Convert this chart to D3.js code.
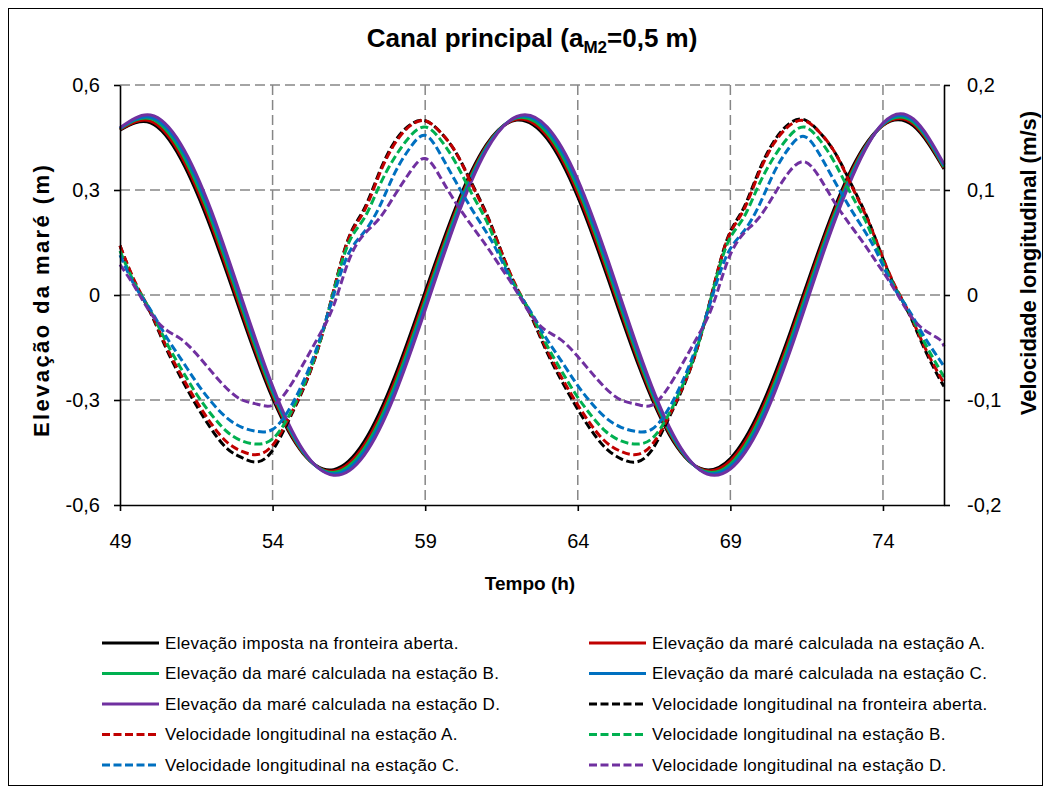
<!DOCTYPE html>
<html>
<head>
<meta charset="utf-8">
<script src="https://cdn.jsdelivr.net/npm/d3@7"></script>
<style>
  body { margin: 0; background: #fff; }
  svg { font-family: Arial, "Liberation Sans", sans-serif; }
</style>
</head>
<body>
<div id="chart"></div>
<script>
// Canal principal - elevação e velocidade

const elevHours = [49, 50, 51, 52, 53, 54, 55, 56, 57, 58, 59, 60, 61, 62,
  63, 64, 65, 66, 67, 68, 69, 70, 71, 72, 73, 74, 75, 76];

const elevOpen = [0.471, 0.492, 0.388, 0.186, -0.062, -0.295, -0.453, -0.499, -0.419, -0.234,
  0.009, 0.250, 0.429, 0.500, 0.446, 0.280, 0.044, -0.203, -0.399, -0.495,
  -0.467, -0.322, -0.097, 0.153, 0.365, 0.485, 0.483, 0.360];
const elevA = [0.473, 0.497, 0.398, 0.199, -0.050, -0.286, -0.451, -0.503, -0.429, -0.247,
  -0.004, 0.240, 0.425, 0.502, 0.454, 0.292, 0.057, -0.192, -0.394, -0.496,
  -0.474, -0.334, -0.110, 0.142, 0.358, 0.485, 0.488, 0.363];
const elevB = [0.475, 0.504, 0.409, 0.213, -0.037, -0.278, -0.449, -0.507, -0.439, -0.260,
  -0.017, 0.231, 0.421, 0.506, 0.463, 0.305, 0.070, -0.182, -0.389, -0.498,
  -0.483, -0.346, -0.123, 0.131, 0.352, 0.487, 0.493, 0.366];
const elevC = [0.476, 0.508, 0.420, 0.226, -0.024, -0.269, -0.446, -0.511, -0.448, -0.273,
  -0.030, 0.221, 0.417, 0.508, 0.472, 0.317, 0.083, -0.171, -0.383, -0.499,
  -0.490, -0.358, -0.136, 0.119, 0.345, 0.489, 0.498, 0.370];
const elevD = [0.478, 0.514, 0.430, 0.239, -0.012, -0.260, -0.443, -0.515, -0.458, -0.286,
  -0.043, 0.211, 0.412, 0.510, 0.480, 0.330, 0.097, -0.160, -0.377, -0.500,
  -0.497, -0.370, -0.150, 0.108, 0.338, 0.491, 0.503, 0.374];

const velHours = [49, 49.5, 50, 50.5, 51, 51.5, 52, 52.5, 53, 53.5, 54, 54.5, 55, 55.5,
  56, 56.5, 57, 57.5, 58, 58.5, 59, 59.5, 60, 60.5, 61,
  61.42, 61.92, 62.42, 62.92, 63.42, 63.92, 64.42, 64.92, 65.42, 65.92, 66.42, 66.92,
  67.42, 67.92, 68.42, 68.92, 69.42, 69.92, 70.42, 70.92, 71.42, 71.92, 72.42, 72.92, 73.42,
  73.84, 74.34, 74.84, 75.34, 75.84, 76];

const velOpen = [0.047, 0.011, -0.017, -0.050, -0.079, -0.105, -0.128, -0.146, -0.155, -0.159,
  -0.148, -0.121, -0.090, -0.050, 0.004, 0.055, 0.082, 0.117, 0.146, 0.162, 0.166, 0.155,
  0.136, 0.108, 0.078,
  0.047, 0.011, -0.017, -0.050, -0.079, -0.105, -0.128, -0.146, -0.156, -0.159,
  -0.148, -0.121, -0.090, -0.050, 0.004, 0.055, 0.082, 0.117, 0.146, 0.163, 0.167, 0.155,
  0.136, 0.108, 0.078,
  0.047, 0.011, -0.017, -0.050, -0.079, -0.087];
const velA = [0.047, 0.012, -0.016, -0.048, -0.076, -0.101, -0.123, -0.140, -0.149, -0.152,
  -0.143, -0.119, -0.089, -0.050, 0.004, 0.054, 0.080, 0.115, 0.144, 0.161, 0.166, 0.155,
  0.136, 0.107, 0.077,
  0.047, 0.012, -0.016, -0.048, -0.076, -0.101, -0.123, -0.140, -0.149, -0.152,
  -0.143, -0.119, -0.089, -0.050, 0.004, 0.054, 0.080, 0.115, 0.144, 0.161, 0.166, 0.155,
  0.136, 0.107, 0.077,
  0.047, 0.012, -0.016, -0.048, -0.076, -0.084];
const velB = [0.042, 0.010, -0.015, -0.044, -0.070, -0.094, -0.114, -0.130, -0.139, -0.142,
  -0.137, -0.117, -0.087, -0.049, 0.003, 0.050, 0.073, 0.104, 0.131, 0.151, 0.160, 0.148,
  0.126, 0.098, 0.071,
  0.042, 0.010, -0.015, -0.044, -0.070, -0.094, -0.114, -0.130, -0.139, -0.142,
  -0.137, -0.117, -0.087, -0.049, 0.003, 0.050, 0.073, 0.104, 0.131, 0.151, 0.160, 0.148,
  0.126, 0.098, 0.071,
  0.042, 0.010, -0.015, -0.044, -0.070, -0.078];
const velC = [0.038, 0.008, -0.014, -0.039, -0.061, -0.083, -0.102, -0.117, -0.126, -0.130,
  -0.128, -0.111, -0.083, -0.046, 0.000, 0.040, 0.060, 0.084, 0.116, 0.140, 0.152, 0.134,
  0.108, 0.083, 0.060,
  0.038, 0.008, -0.014, -0.039, -0.061, -0.083, -0.102, -0.117, -0.126, -0.130,
  -0.128, -0.111, -0.083, -0.046, 0.000, 0.040, 0.060, 0.084, 0.116, 0.140, 0.151, 0.134,
  0.108, 0.083, 0.060,
  0.038, 0.008, -0.014, -0.039, -0.061, -0.068];
const velD = [0.029, 0.007, -0.017, -0.033, -0.042, -0.056, -0.073, -0.089, -0.100, -0.104,
  -0.105, -0.090, -0.066, -0.040, -0.010, 0.033, 0.058, 0.073, 0.095, 0.117, 0.130, 0.112,
  0.088, 0.067, 0.047,
  0.029, 0.007, -0.017, -0.033, -0.042, -0.056, -0.073, -0.089, -0.100, -0.104,
  -0.105, -0.090, -0.066, -0.040, -0.010, 0.033, 0.058, 0.073, 0.095, 0.117, 0.127, 0.112,
  0.088, 0.067, 0.047,
  0.029, 0.007, -0.017, -0.033, -0.042, -0.049];

const hourTicks = [49, 54, 59, 64, 69, 74];
const elevTicks = [-0.6, -0.3, 0, 0.3, 0.6];
const velTicks = [-0.2, -0.1, 0, 0.1, 0.2];

const legendLabels = [
  "Elevação imposta na fronteira aberta.",
  "Elevação da maré calculada na estação A.",
  "Elevação da maré calculada na estação B.",
  "Elevação da maré calculada na estação C.",
  "Elevação da maré calculada na estação D.",
  "Velocidade longitudinal na fronteira aberta.",
  "Velocidade longitudinal na estação A.",
  "Velocidade longitudinal na estação B.",
  "Velocidade longitudinal na estação C.",
  "Velocidade longitudinal na estação D."
];

const colors = ["#000000", "#C00000", "#00B050", "#0070C0", "#7030A0"];

const W = 1051, H = 794;
const plot = {left: 120, right: 944, top: 85, bottom: 505};

const svg = d3.select("#chart").append("svg")
  .attr("width", W)
  .attr("height", H);

svg.append("rect")
  .attr("x", 8.5).attr("y", 8.5)
  .attr("width", W - 17).attr("height", H - 17)
  .attr("fill", "#fff")
  .attr("stroke", "#000")
  .attr("stroke-width", 1);

const x = d3.scaleLinear().domain([49, 76]).range([plot.left, plot.right]);
const yElev = d3.scaleLinear().domain([-0.6, 0.6]).range([plot.bottom, plot.top]);
const yVel = d3.scaleLinear().domain([-0.2, 0.2]).range([plot.bottom, plot.top]);

const comma = d => String(d).replace(".", ",");

// gridlines
const grid = svg.append("g")
  .attr("stroke", "#868686")
  .attr("stroke-width", 1.5)
  .attr("stroke-dasharray", "10,5");
grid.selectAll("line.h")
  .data(elevTicks.filter(d => d > -0.6))
  .join("line")
  .attr("x1", plot.left).attr("x2", plot.right)
  .attr("y1", d => yElev(d)).attr("y2", d => yElev(d));
grid.selectAll("line.v")
  .data(hourTicks.filter(d => d > 49))
  .join("line")
  .attr("class", "v")
  .attr("x1", d => x(d)).attr("x2", d => x(d))
  .attr("y1", plot.top).attr("y2", plot.bottom);

// series
const elevSeries = [elevOpen, elevA, elevB, elevC, elevD];
const velSeries = [velOpen, velA, velB, velC, velD];

const elevLine = d3.line()
  .curve(d3.curveNatural)
  .x((d, i) => x(elevHours[i]))
  .y(d => yElev(d));
const velLine = d3.line()
  .curve(d3.curveNatural)
  .x((d, i) => x(velHours[i]))
  .y(d => yVel(d));

svg.append("g").selectAll("path")
  .data(elevSeries)
  .join("path")
  .attr("fill", "none")
  .attr("stroke", (d, i) => colors[i])
  .attr("stroke-width", 3)
  .attr("d", elevLine);

svg.append("g").selectAll("path")
  .data(velSeries)
  .join("path")
  .attr("fill", "none")
  .attr("stroke", (d, i) => colors[i])
  .attr("stroke-width", 3)
  .attr("stroke-dasharray", "8,3.5")
  .attr("d", velLine);

// axes
function styleAxis(g) {
  g.select(".domain").attr("stroke", "#000").attr("stroke-width", 1.6);
  g.selectAll(".tick line").attr("stroke", "#000").attr("stroke-width", 1.6);
  g.selectAll(".tick text")
    .attr("fill", "#000")
    .style("font-size", "20px");
}

svg.append("g")
  .attr("transform", `translate(${plot.left},0)`)
  .call(d3.axisLeft(yElev).tickValues(elevTicks).tickFormat(comma)
    .tickSize(6).tickSizeOuter(0).tickPadding(14))
  .call(styleAxis);

svg.append("g")
  .attr("transform", `translate(${plot.right},0)`)
  .call(d3.axisRight(yVel).tickValues(velTicks).tickFormat(comma)
    .tickSize(6).tickSizeOuter(0).tickPadding(17))
  .call(styleAxis);

svg.append("g")
  .attr("transform", `translate(0,${plot.bottom})`)
  .call(d3.axisBottom(x).tickValues(hourTicks).tickFormat(d => d)
    .tickSize(6).tickSizeOuter(0).tickPadding(23))
  .call(styleAxis);

// titles
const title = svg.append("text")
  .attr("x", 532).attr("y", 47)
  .attr("text-anchor", "middle")
  .style("font-size", "26px")
  .style("font-weight", "bold");
title.append("tspan").text("Canal principal (a");
title.append("tspan").text("M2").attr("dy", 6).style("font-size", "17px");
title.append("tspan").text("=0,5 m)").attr("dy", -6);

svg.append("text")
  .attr("x", 530).attr("y", 590)
  .attr("text-anchor", "middle")
  .style("font-size", "19px")
  .style("font-weight", "bold")
  .text("Tempo (h)");

svg.append("text")
  .attr("transform", "translate(49,300) rotate(-90)")
  .attr("text-anchor", "middle")
  .style("font-size", "22px")
  .style("font-weight", "bold")
  .style("letter-spacing", "2.4px")
  .text("Elevação da maré (m)");

svg.append("text")
  .attr("transform", "translate(1036,263) rotate(-90)")
  .attr("text-anchor", "middle")
  .style("font-size", "22px")
  .style("font-weight", "bold")
  .text("Velocidade longitudinal (m/s)");

// legend, two columns
const legend = svg.append("g");
const rows = legend.selectAll("g")
  .data(legendLabels)
  .join("g")
  .attr("transform", (d, i) => `translate(${i % 2 ? 589 : 102},${643 + Math.floor(i / 2) * 30.5})`);
rows.append("line")
  .attr("x1", 0).attr("x2", 57)
  .attr("stroke", (d, i) => colors[i % 5])
  .attr("stroke-width", 3)
  .attr("stroke-dasharray", (d, i) => i >= 5 ? "8,3.5" : null);
rows.append("text")
  .attr("x", 63).attr("dy", "0.35em")
  .style("font-size", "17px")
  .style("letter-spacing", "0.3px")
  .text(d => d);
</script>
</body>
</html>
